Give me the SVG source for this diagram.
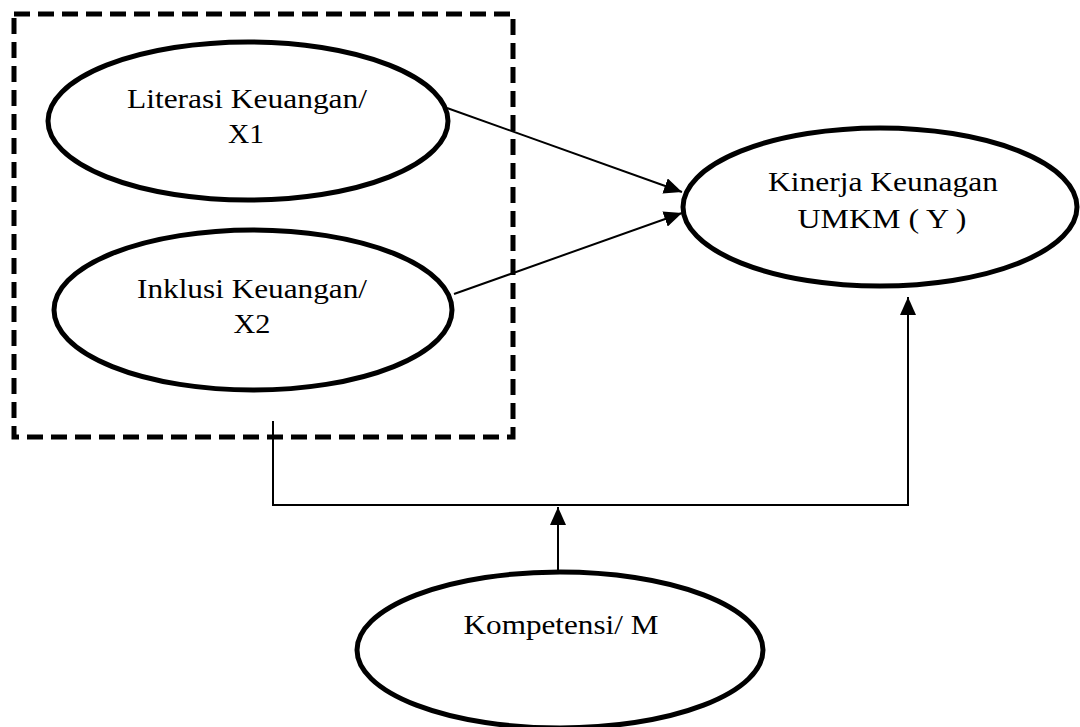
<svg xmlns="http://www.w3.org/2000/svg" width="1080" height="727" viewBox="0 0 1080 727">
<style>
.node{fill:#fff;stroke:#000;stroke-width:5}
.lbl{font-family:"Liberation Serif","Times New Roman",serif;font-size:27px;fill:#000;text-anchor:middle}
.conn{fill:none;stroke:#000;stroke-width:2}
.box{fill:none;stroke:#000;stroke-width:5;stroke-dasharray:16 8}
</style>
<defs>
<marker id="ah" markerUnits="userSpaceOnUse" markerWidth="19" markerHeight="16" refX="18" refY="8" orient="auto">
<path d="M0,0 L18,8 L0,16 Z" fill="#000"/>
</marker>
</defs>
<rect width="1080" height="727" fill="#fff"/>
<rect id="group-box" class="box" x="14" y="14" width="499" height="423"/>
<g id="connectors">
<line class="conn" x1="447" y1="108" x2="682" y2="192" marker-end="url(#ah)"/>
<line class="conn" x1="454" y1="294" x2="682" y2="213" marker-end="url(#ah)"/>
<polyline class="conn" points="273,421 273,505 908,505 908,297" marker-end="url(#ah)"/>
<line class="conn" x1="558" y1="572" x2="558" y2="507" marker-end="url(#ah)"/>
</g>
<g id="node-x1">
<ellipse class="node" cx="248" cy="121" rx="200" ry="79"/>
<text class="lbl" x="247" y="108" textLength="240" lengthAdjust="spacingAndGlyphs">Literasi Keuangan/</text>
<text class="lbl" x="246" y="143" textLength="36" lengthAdjust="spacingAndGlyphs">X1</text>
</g>
<g id="node-x2">
<ellipse class="node" cx="253" cy="310" rx="199" ry="80"/>
<text class="lbl" x="252" y="298" textLength="230" lengthAdjust="spacingAndGlyphs">Inklusi Keuangan/</text>
<text class="lbl" x="252" y="333" textLength="37" lengthAdjust="spacingAndGlyphs">X2</text>
</g>
<g id="node-y">
<ellipse class="node" cx="880" cy="207" rx="197" ry="79"/>
<text class="lbl" x="883" y="191" textLength="230" lengthAdjust="spacingAndGlyphs">Kinerja Keunagan</text>
<text class="lbl" x="882" y="228" textLength="169" lengthAdjust="spacingAndGlyphs">UMKM ( Y )</text>
</g>
<g id="node-m">
<ellipse class="node" cx="560" cy="650" rx="203" ry="78"/>
<text class="lbl" x="561" y="634" textLength="195" lengthAdjust="spacingAndGlyphs">Kompetensi/ M</text>
</g>
</svg>
